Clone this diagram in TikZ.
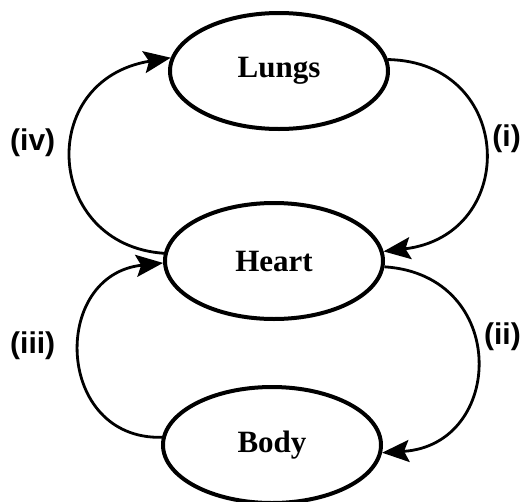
\documentclass[tikz,border=0pt]{standalone}
\usepackage{fontspec}
\setmainfont{Liberation Serif}
\newfontfamily\handfont{Liberation Sans}
\usetikzlibrary{arrows.meta,shapes.geometric}
\begin{document}
\begin{tikzpicture}[x=1pt,y=-1pt,
  organ/.style={draw,ellipse,line width=4pt,minimum width=218pt,minimum height=116pt,inner sep=0pt,font=\fontsize{31}{36}\selectfont\bfseries},
  flow/.style={line width=2.8pt,-{Stealth[length=27pt,width=22pt,inset=5pt]}},
  lbl/.style={font=\handfont\bfseries\fontsize{30}{34}\selectfont,inner sep=0pt}]
\fill[white] (0,0) rectangle (522,501);
\useasboundingbox (0,0) rectangle (522,501);
\node[organ] (lungs) at (279,71) {Lungs};
\node[organ] (heart) at (274,261) {Heart};
\node[organ] (body) at (272,445) {Body};
\draw[flow] (heart.176) .. controls (45,245) and (35,80) .. (lungs.173);
\draw[flow] (lungs.6) .. controls (515,62) and (520,235) .. (heart.5);
\draw[flow] (heart.357) .. controls (510,275) and (505,445) .. (body.356);
\draw[flow] (body.176) .. controls (55,440) and (50,275) .. (heart.181);
\node[lbl,anchor=west] (l4) at (10,143) {(iv)};
\node[lbl,anchor=west] (l3) at (10,346) {(iii)};
\node[lbl,anchor=east] (l2) at (521,337) {(ii)};
\node[lbl,anchor=east] (l1) at (521,139) {(i)};
\end{tikzpicture}
\end{document}
